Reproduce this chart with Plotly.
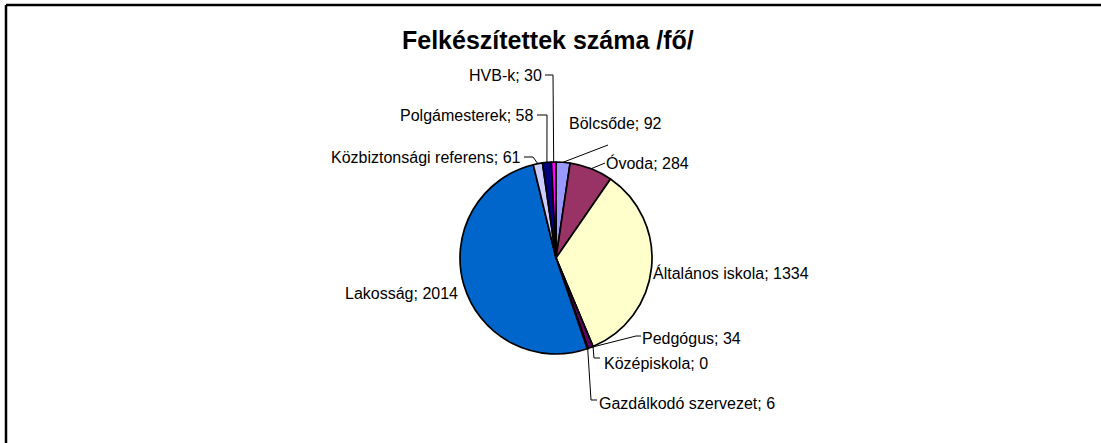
import math
import plotly.graph_objects as go

# ---- data ----
categories = ["Bölcsőde", "Óvoda", "Általános iskola", "Középiskola", "Pedgógus",
              "Gazdálkodó szervezet", "Lakosság", "Közbiztonsági referens",
              "Polgámesterek", "HVB-k"]
values = [92, 284, 1334, 0, 34, 6, 2014, 61, 58, 30]
colors = ["#9999FF", "#993366", "#FFFFCC", "#CCFFFF", "#660066",
          "#FF8080", "#0066CC", "#CCCCFF", "#000080", "#FF00FF"]
title_text = "Felkészítettek száma /fő/"

# ---- layout constants (pixels) ----
W, H = 1101, 443
CX, CY, R = 556, 258, 96
FONT = "Liberation Sans, Arial, sans-serif"

# label placement: (text anchor x, y, xanchor, leader-line label-side points)
label_layout = {
    "HVB-k": (543, 75, "right", [(545, 75), (553, 75)]),
    "Polgámesterek": (535, 115, "right", [(537, 115), (547, 115)]),
    "Közbiztonsági referens": (522, 157, "right", [(524, 157), (533, 157)]),
    "Bölcsőde": (568, 123, "left", [(608, 145)]),
    "Óvoda": (605, 163, "left", [(605, 163)]),
    "Általános iskola": (652, 273, "left", None),
    "Pedgógus": (641, 338, "left", [(641, 336), (636, 336)]),
    "Középiskola": (603, 363, "left", [(600, 358), (594, 358)]),
    "Gazdálkodó szervezet": (598, 403, "left", [(597, 400), (591, 400)]),
    "Lakosság": (459, 293, "right", None),
}

fig = go.Figure()

fig.add_trace(go.Pie(
    labels=categories, values=values, sort=False, direction="clockwise",
    rotation=0, textinfo="none", hoverinfo="label+value",
    marker=dict(colors=colors, line=dict(color="black", width=1.7)),
    domain=dict(x=[(CX - R) / W, (CX + R) / W],
                y=[1 - (CY + R) / H, 1 - (CY - R) / H]),
    showlegend=False,
))

# anchor points on the pie edge computed from data (mid-angle of each slice)
total = sum(values)
cum = 0.0
anchors = {}
for c, v in zip(categories, values):
    mid = (cum + v / 2) / total * 2 * math.pi
    anchors[c] = (CX + R * math.sin(mid), CY - R * math.cos(mid))
    cum += v

annotations = []
for c, v in zip(categories, values):
    x, y, xa, pts = label_layout[c]
    annotations.append(dict(
        x=x, y=y, xref="x", yref="y", text=f"{c}; {v}", showarrow=False,
        xanchor=xa, yanchor="middle", borderpad=0,
        font=dict(family=FONT, size=16, color="black")))
    if pts:
        ax, ay = anchors[c]
        xs = [p[0] for p in pts] + [ax]
        ys = [p[1] for p in pts] + [ay]
        fig.add_trace(go.Scatter(x=xs, y=ys, mode="lines",
                                 line=dict(color="black", width=1),
                                 hoverinfo="skip", showlegend=False))

annotations.append(dict(
    x=548, y=40, xref="x", yref="y", text=f"<b>{title_text}</b>", showarrow=False,
    xanchor="center", yanchor="middle",
    font=dict(family=FONT, size=25, color="black")))

frame = dict(color="black", width=2.5)
fig.update_layout(
    width=W, height=H,
    margin=dict(l=0, r=0, t=0, b=0),
    paper_bgcolor="white", plot_bgcolor="rgba(0,0,0,0)",
    xaxis=dict(range=[0, W], visible=False, domain=[0, 1], fixedrange=True),
    yaxis=dict(range=[H, 0], visible=False, domain=[0, 1], fixedrange=True),
    annotations=annotations,
    shapes=[
        dict(type="line", xref="paper", yref="paper", x0=6 / W, x1=1.05,
             y0=1 - 5 / H, y1=1 - 5 / H, line=frame),
        dict(type="line", xref="paper", yref="paper", x0=6 / W, x1=6 / W,
             y0=1 - 5 / H, y1=-0.05, line=frame),
    ],
)

fig.write_html("out.html", config={"displayModeBar": False},
               post_script="document.body.style.margin='0';document.body.style.overflow='hidden';")
